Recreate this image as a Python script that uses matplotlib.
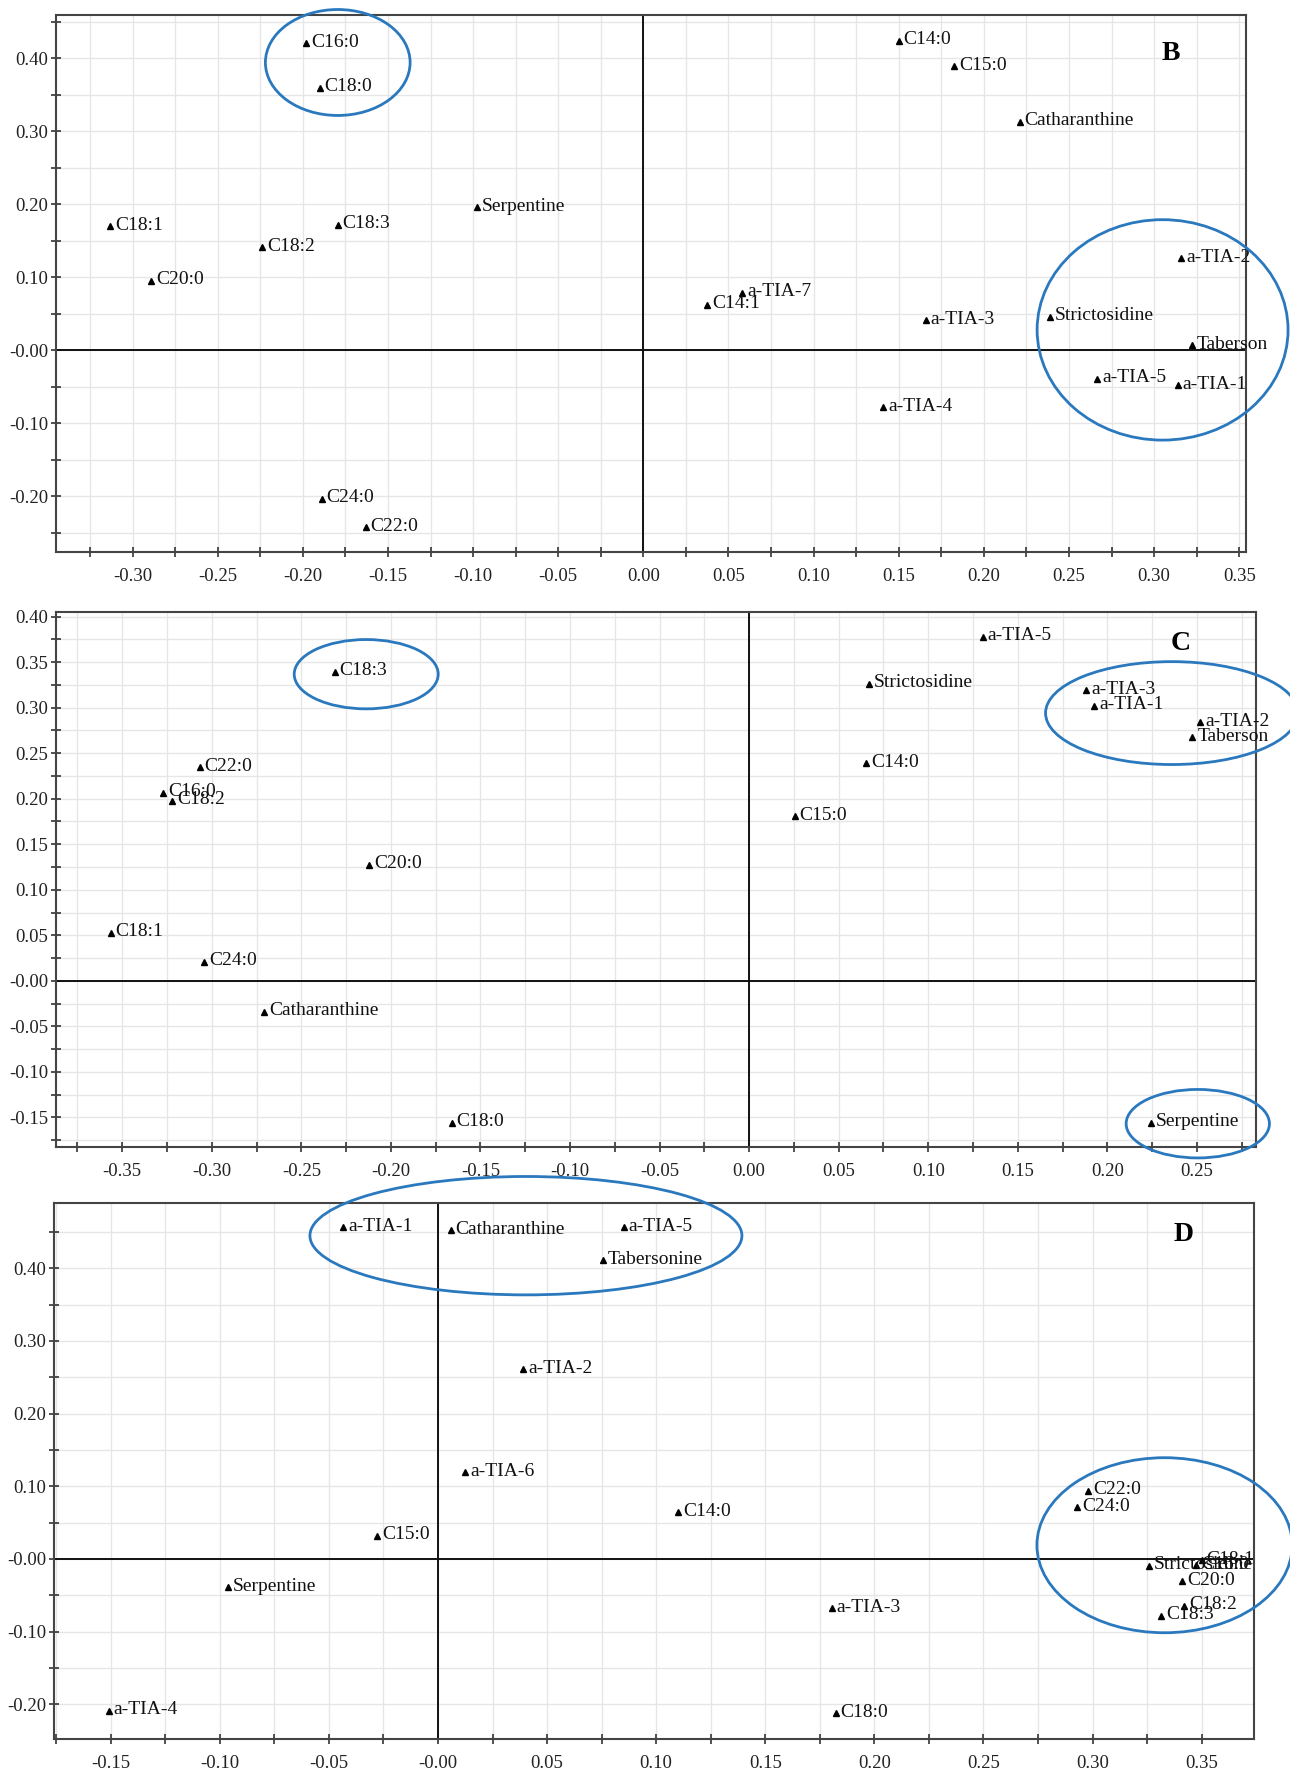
import matplotlib
matplotlib.use("Agg")
import matplotlib.pyplot as plt
from matplotlib.patches import Ellipse
from matplotlib.ticker import FixedLocator, FixedFormatter

plt.rcParams['font.family'] = ['Liberation Serif', 'DejaVu Serif']

# ---------------- Panel B loadings ----------------
b_names = ["C16:0", "C18:0", "C18:1", "C18:2", "C18:3", "C20:0", "Serpentine",
           "C24:0", "C22:0", "C14:0", "C15:0", "Catharanthine", "a-TIA-2",
           "C14:1", "a-TIA-7", "a-TIA-3", "Strictosidine", "Taberson",
           "a-TIA-5", "a-TIA-1", "a-TIA-4"]
b_x = [-0.198, -0.190, -0.313, -0.224, -0.1795, -0.289, -0.0976,
       -0.189, -0.163, 0.150, 0.1825, 0.221, 0.316,
       0.0376, 0.058, 0.166, 0.239, 0.322,
       0.2665, 0.314, 0.141]
b_y = [0.420, 0.359, 0.170, 0.141, 0.172, 0.095, 0.196,
       -0.203, -0.242, 0.424, 0.389, 0.313, 0.126,
       0.0627, 0.0786, 0.041, 0.046, 0.0068,
       -0.0386, -0.0477, -0.078]

# ---------------- Panel C loadings ----------------
c_names = ["C18:3", "C22:0", "C16:0", "C18:2", "C20:0", "C18:1", "C24:0",
           "Catharanthine", "C18:0", "a-TIA-5", "Strictosidine", "a-TIA-3",
           "a-TIA-1", "a-TIA-2", "Taberson", "C14:0", "C15:0", "Serpentine"]
c_x = [-0.2313, -0.3067, -0.3273, -0.3222, -0.2123, -0.3565, -0.3044,
       -0.2708, -0.166, 0.1303, 0.0671, 0.1882,
       0.1928, 0.252, 0.2475, 0.0653, 0.0254, 0.2245]
c_y = [0.3396, 0.2346, 0.2064, 0.198, 0.1274, 0.0529, 0.0208,
       -0.0339, -0.1558, 0.378, 0.326, 0.3188,
       0.302, 0.284, 0.2675, 0.239, 0.1805, -0.1558]

# ---------------- Panel D loadings ----------------
d_names = ["a-TIA-1", "Catharanthine", "Tabersonine", "a-TIA-5", "a-TIA-2",
           "a-TIA-6", "C15:0", "Serpentine", "a-TIA-4", "C14:0", "a-TIA-3",
           "C18:0", "C22:0", "C24:0", "Strictosidine", "C18:1", "C16:0",
           "C20:0", "C18:2", "C18:3"]
d_x = [-0.0435, 0.0059, 0.0757, 0.0852, 0.039,
       0.0124, -0.0279, -0.0964, -0.151, 0.110, 0.1805,
       0.1823, 0.298, 0.293, 0.3258, 0.350, 0.3475,
       0.341, 0.342, 0.3315]
d_y = [0.4564, 0.4523, 0.411, 0.4564, 0.261,
       0.119, 0.0321, -0.039, -0.2096, 0.0642, -0.0683,
       -0.2128, 0.094, 0.0711, -0.0092, -0.002, -0.009,
       -0.0307, -0.065, -0.078]

# ---------------- axis ticks ----------------
b_xticks = [-0.30, -0.25, -0.20, -0.15, -0.10, -0.05, 0.00, 0.05, 0.10, 0.15, 0.20, 0.25, 0.30, 0.35]
b_xlabels = ["-0.30", "-0.25", "-0.20", "-0.15", "-0.10", "-0.05", "0.00", "0.05", "0.10",
             "0.15", "0.20", "0.25", "0.30", "0.35"]
b_yticks = [0.40, 0.30, 0.20, 0.10, 0.00, -0.10, -0.20]
b_ylabels = ["0.40", "0.30", "0.20", "0.10", "-0.00", "-0.10", "-0.20"]

c_xticks = [-0.35, -0.30, -0.25, -0.20, -0.15, -0.10, -0.05, 0.00, 0.05, 0.10, 0.15, 0.20, 0.25]
c_xlabels = ["-0.35", "-0.30", "-0.25", "-0.20", "-0.15", "-0.10", "-0.05", "0.00", "0.05",
             "0.10", "0.15", "0.20", "0.25"]
c_yticks = [0.40, 0.35, 0.30, 0.25, 0.20, 0.15, 0.10, 0.05, 0.00, -0.05, -0.10, -0.15]
c_ylabels = ["0.40", "0.35", "0.30", "0.25", "0.20", "0.15", "0.10", "0.05", "-0.00",
             "-0.05", "-0.10", "-0.15"]

d_xticks = [-0.15, -0.10, -0.05, 0.00, 0.05, 0.10, 0.15, 0.20, 0.25, 0.30, 0.35]
d_xlabels = ["-0.15", "-0.10", "-0.05", "-0.00", "0.05", "0.10", "0.15", "0.20", "0.25",
             "0.30", "0.35"]
d_yticks = [0.40, 0.30, 0.20, 0.10, 0.00, -0.10, -0.20]
d_ylabels = ["0.40", "0.30", "0.20", "0.10", "-0.00", "-0.10", "-0.20"]

# highlighted groups: (centre x, centre y, width, height)
b_groups = [(-0.1795, 0.394, 0.085, 0.145), (0.305, 0.028, 0.1474, 0.3017)]
c_groups = [(-0.2138, 0.3367, 0.0804, 0.0761), (0.236, 0.294, 0.141, 0.113),
            (0.2505, -0.1569, 0.080, 0.0752)]
d_groups = [(0.0403, 0.445, 0.198, 0.163), (0.333, 0.0188, 0.117, 0.241)]

FIG_W, FIG_H = 1290, 1773
fig = plt.figure(figsize=(FIG_W / 100, FIG_H / 100), dpi=100)
fig.patch.set_facecolor("white")


def px_axes(left, top, right, bottom):
    return fig.add_axes([left / FIG_W, 1 - bottom / FIG_H,
                         (right - left) / FIG_W, (bottom - top) / FIG_H])


def minor_positions(lo, hi, step, majors):
    vals = []
    k = int(round(lo / step)) - 1
    while k * step <= hi + 1e-9:
        v = round(k * step, 4)
        if lo - 1e-9 <= v <= hi + 1e-9 and all(abs(v - m) > 1e-6 for m in majors):
            vals.append(v)
        k += 1
    return vals


def draw_panel(ax, names, xs, ys, xlim, ylim, xt, xl, yt, yl, xminor, yminor,
               groups, letter, letter_pos):
    ax.set_xlim(*xlim)
    ax.set_ylim(*ylim)
    ax.xaxis.set_major_locator(FixedLocator(xt))
    ax.xaxis.set_major_formatter(FixedFormatter(xl))
    ax.yaxis.set_major_locator(FixedLocator(yt))
    ax.yaxis.set_major_formatter(FixedFormatter(yl))
    ax.xaxis.set_minor_locator(FixedLocator(minor_positions(xlim[0], xlim[1], xminor, xt)))
    ax.yaxis.set_minor_locator(FixedLocator(minor_positions(ylim[0], ylim[1], yminor, yt)))
    ax.grid(which="both", color="#e6e6e6", lw=1.0, zorder=0)
    ax.set_axisbelow(True)
    ax.tick_params(which="both", direction="inout", length=7, width=1.2,
                   color="#333333", labelsize=13.5, labelcolor="#222222")
    ax.tick_params(axis="x", which="both", pad=8)
    ax.tick_params(axis="y", which="both", pad=2)
    for sp in ax.spines.values():
        sp.set_color("#444444")
        sp.set_linewidth(1.5)
    ax.axhline(0, color="#111111", lw=1.4, zorder=1.5)
    ax.axvline(0, color="#111111", lw=1.4, zorder=1.5)
    ax.plot(xs, ys, "^", color="black", ms=4.5, zorder=3)
    for n, x, y in zip(names, xs, ys):
        ax.annotate(n, (x, y), xytext=(3.5, 0.8), textcoords="offset points",
                    ha="left", va="center", fontsize=14, color="#111111", zorder=4)
    for cx, cy, w, h in groups:
        e = Ellipse((cx, cy), w, h, fill=False, edgecolor="#2a78bd", lw=2.0,
                    clip_on=False, zorder=5)
        ax.add_patch(e)
    ax.text(letter_pos[0], letter_pos[1], letter, fontsize=20, fontweight="bold",
            ha="center", va="center", color="black", zorder=4)


ax_b = px_axes(56, 15, 1246, 552)
draw_panel(ax_b, b_names, b_x, b_y, (-0.345, 0.354), (-0.276, 0.459),
           b_xticks, b_xlabels, b_yticks, b_ylabels, 0.025, 0.05,
           b_groups, "B", (0.310, 0.406))

ax_c = px_axes(56, 612, 1256, 1147)
draw_panel(ax_c, c_names, c_x, c_y, (-0.387, 0.283), (-0.1825, 0.405),
           c_xticks, c_xlabels, c_yticks, c_ylabels, 0.025, 0.025,
           c_groups, "C", (0.2407, 0.370))

ax_d = px_axes(54, 1203, 1254, 1739)
draw_panel(ax_d, d_names, d_x, d_y, (-0.176, 0.374), (-0.248, 0.49),
           d_xticks, d_xlabels, d_yticks, d_ylabels, 0.025, 0.05,
           d_groups, "D", (0.3416, 0.446))

fig.savefig("out.png", dpi=100, facecolor="white")
